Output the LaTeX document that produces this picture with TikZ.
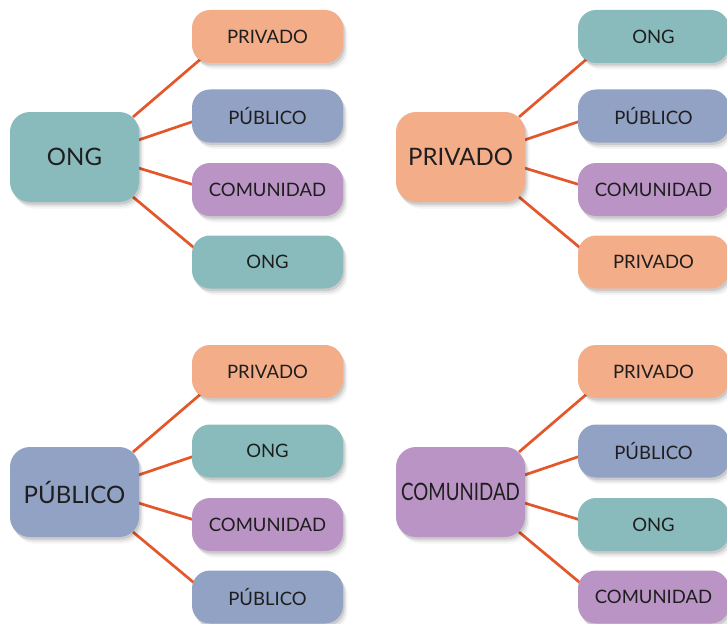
\documentclass[tikz,border=0pt]{standalone}
\usepackage{fontspec}
\usepackage{graphicx}
\setmainfont{Lato}
\usetikzlibrary{calc,shadows}
\definecolor{salmon}{HTML}{F4AD89}
\definecolor{bluegrey}{HTML}{92A2C4}
\definecolor{lilac}{HTML}{BB94C6}
\definecolor{tealc}{HTML}{8ABBBC}
\definecolor{linkc}{HTML}{E4572A}
\definecolor{txtc}{HTML}{1E1E1E}
\pgfdeclarelayer{bg}
\pgfdeclarelayer{paper}
\pgfsetlayers{paper,bg,main}
\tikzset{
  softshadow/.style={
    drop shadow={shadow xshift=1.5pt, shadow yshift=-2.5pt, opacity=0.10, fill=black},
    drop shadow={shadow xshift=3pt, shadow yshift=-4.5pt, opacity=0.07, fill=black},
    drop shadow={shadow xshift=4.5pt, shadow yshift=-6.5pt, opacity=0.04, fill=black}},
  basebox/.style={rectangle, inner sep=0pt, text=txtc, softshadow},
  centerbox/.style={basebox, minimum width=129pt, minimum height=90pt, rounded corners=20pt,
    font=\fontsize{24}{24}\selectfont},
  childbox/.style={basebox, minimum width=151pt, minimum height=53pt, rounded corners=18pt,
    font=\fontsize{18.5}{19}\selectfont},
  ong/.style={fill=tealc},
  priv/.style={fill=salmon},
  pub/.style={fill=bluegrey},
  com/.style={fill=lilac},
  link/.style={draw=linkc, line width=2.7pt}
}
% #1 prefix, #2 x shift, #3 y shift, #4 centre style, #5 centre text, #6 children
\newcommand{\drawgroup}[6]{%
  \begin{scope}[shift={(#2,#3)}]
    \node[centerbox,#4] (#1c) at (74.5,157) {#5};
    \foreach \col/\txt/\yy [count=\i] in {#6} {
      \node[childbox,\col] (#1\i) at (267.5,\yy) {\txt};
    }
  \end{scope}
  \begin{pgfonlayer}{bg}
    \draw[link] ($(#1c.center)+(58.5,-40)$) -- ($(#11.center)+(-65,21)$);
    \draw[link] ($(#1c.center)+(64,-17)$) -- ($(#12.center)+(-73,5)$);
    \draw[link] ($(#1c.center)+(64,11)$) -- ($(#13.center)+(-73,-4.5)$);
    \draw[link] ($(#1c.center)+(58.5,40)$) -- ($(#14.center)+(-72,-13)$);
  \end{pgfonlayer}
}
\begin{document}
\begin{tikzpicture}[x=1pt,y=-1pt]
  \begin{pgfonlayer}{paper}
    \fill[white] (0,0) rectangle (727,623);
  \end{pgfonlayer}
  \useasboundingbox (0,0) rectangle (727,623);
  \drawgroup{a}{0}{0}{ong}{ONG}{priv/PRIVADO/36.5, pub/PÚBLICO/116, com/COMUNIDAD/189.5, ong/ONG/262}
  \drawgroup{b}{386}{0}{priv}{PRIVADO}{ong/ONG/36.5, pub/PÚBLICO/116, com/COMUNIDAD/189.5, priv/PRIVADO/262}
  \drawgroup{c}{0}{335}{pub}{PÚBLICO}{priv/PRIVADO/36.5, ong/ONG/116, com/COMUNIDAD/189.5, pub/PÚBLICO/262}
  \drawgroup{d}{386}{335}{com}{\scalebox{0.78}[1]{COMUNIDAD}}{priv/PRIVADO/36.5, pub/PÚBLICO/116, ong/ONG/189.5, com/COMUNIDAD/262}
\end{tikzpicture}
\end{document}
